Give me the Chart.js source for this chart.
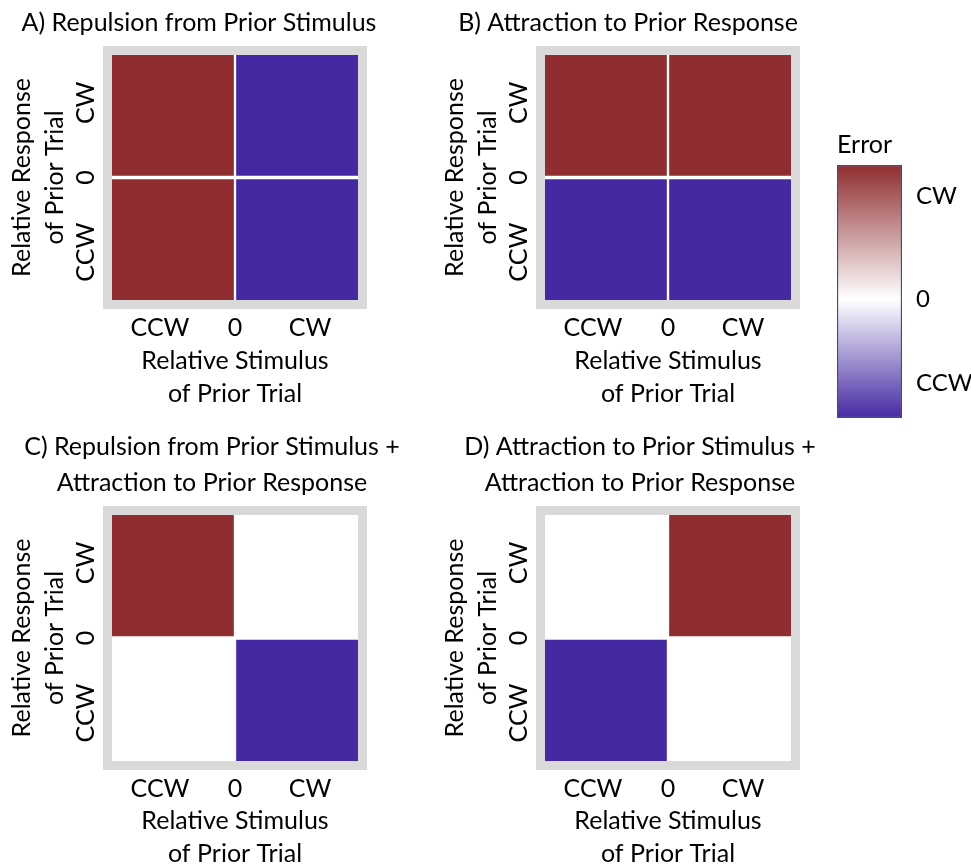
<!DOCTYPE html>
<html><head><meta charset="utf-8">
<script src="https://cdn.jsdelivr.net/npm/chart.js@4.4.1/dist/chart.umd.min.js"></script>
<style>
html,body{margin:0;padding:0;background:#fff;overflow:hidden;width:971px;height:865px;position:relative;}
canvas{position:absolute;}
</style></head><body>
<canvas id="cA" width="398" height="430" style="left:0px;top:0px"></canvas>
<canvas id="cB" width="390" height="430" style="left:433px;top:0px"></canvas>
<canvas id="cC" width="424" height="460" style="left:0px;top:420px"></canvas>
<canvas id="cD" width="414" height="460" style="left:433px;top:420px"></canvas>
<canvas id="cBar" width="141" height="320" style="left:830px;top:120px"></canvas>
<script>
// ---- data ----
const stimulusCategories = ['CCW', 'CW'];      // columns (x): relative stimulus of prior trial
const responseCategories = ['CCW', 'CW'];      // rows (y), bottom to top: relative response of prior trial
const axisTickLabels = ['CCW', '0', 'CW'];
const colorbarTickLabels = ['CCW', '0', 'CW'];
const colorbarTitle = 'Error';
const xAxisTitle = ['Relative Stimulus', 'of Prior Trial'];
const yAxisTitle = ['Relative Response', 'of Prior Trial'];
// error sign per cell: rows [CCW, CW], each row [stim CCW, stim CW]; 1 = CW error, -1 = CCW error, 0 = none
const errorA = [[1, -1], [1, -1]];
const errorB = [[-1, -1], [1, 1]];
const errorC = [[0, -1], [1, 0]];
const errorD = [[-1, 0], [0, 1]];
const titleA = 'A) Repulsion from Prior Stimulus';
const titleB = 'B) Attraction to Prior Response';
const titleC = ['C) Repulsion from Prior Stimulus +', 'Attraction to Prior Response'];
const titleD = ['D) Attraction to Prior Stimulus +', 'Attraction to Prior Response'];

// ---- style ----
const RED = [143, 45, 48];
const BLUE = [69, 41, 163];
const FRAME = '#d9d9d9';
const FS = 25;
Chart.defaults.font.family = 'Lato';
Chart.defaults.color = '#000';

function colorFor(v) {
  const c = v >= 0 ? RED : BLUE;
  const t = Math.min(1, Math.abs(v));
  const m = k => Math.round(255 + (c[k] - 255) * t);
  return `rgb(${m(0)},${m(1)},${m(2)})`;
}

const framePlugin = {
  id: 'frame',
  afterDatasetsDraw(chart) {
    const a = chart.chartArea, g = chart.ctx;
    g.save();
    g.strokeStyle = FRAME;
    g.lineWidth = 9;
    g.strokeRect(a.left - 2.5, a.top - 2.5, a.right - a.left + 5, a.bottom - a.top + 5);
    g.restore();
  }
};

function makePanel(id, title, values, cfg) {
  const cells = [], colors = [];
  values.forEach((row, r) => row.forEach((v, c) => {
    cells.push({x: stimulusCategories[c], y: [r - 1, r]});
    colors.push(colorFor(v));
  }));
  const canvas = document.getElementById(id);
  const H = canvas.height;
  const W = canvas.width;
  const font = {size: FS, lineHeight: 33 / FS};
  new Chart(canvas, {
    type: 'bar',
    data: {
      labels: stimulusCategories,
      datasets: [{
        data: cells,
        backgroundColor: colors,
        borderColor: '#ffffff',
        borderWidth: {left: 1.5, right: 1.5, top: 2, bottom: 2},
        borderSkipped: false,
        barPercentage: 1,
        categoryPercentage: 1,
        xAxisID: 'x', yAxisID: 'y'
      }]
    },
    options: {
      responsive: false,
      animation: false,
      layout: {padding: 0},
      plugins: {
        legend: {display: false},
        tooltip: {enabled: false},
        title: {display: true, text: title, color: '#000',
          font: {size: FS, lineHeight: 36 / FS, weight: 'normal'},
          padding: {top: cfg.titleTop, bottom: cfg.titleBottom}}
      },
      scales: {
        x: {type: 'category', labels: stimulusCategories, display: false, offset: true, grid: {display: false}},
        x2: {
          type: 'linear', position: 'bottom', min: -1, max: 1, offset: false,
          grid: {display: false, drawTicks: false, offset: false}, border: {display: false},
          afterBuildTicks: s => { s.ticks = [-0.6, 0, 0.6].map(v => ({value: v})); },
          ticks: {font: {size: FS, lineHeight: 1.2}, padding: 11, autoSkip: false, maxRotation: 0,
            callback: (v, i) => axisTickLabels[i]},
          title: {display: true, text: xAxisTitle, font: font, padding: {top: 0, bottom: cfg.xTitleBottom}},
          afterFit: s => { s.height = H - cfg.areaBottom; s.paddingLeft = 0; s.paddingRight = 0; }
        },
        y: {
          type: 'linear', position: 'left', min: -1, max: 1,
          grid: {display: false, drawTicks: false}, border: {display: false},
          afterBuildTicks: s => { s.ticks = [-0.6, 0, 0.6].map(v => ({value: v})); },
          ticks: {font: {size: FS, lineHeight: 1.2}, minRotation: 90, maxRotation: 90, crossAlign: 'center',
            padding: -5.5, autoSkip: false, callback: (v, i) => axisTickLabels[i]},
          title: {display: true, text: yAxisTitle, font: font, padding: {top: 5.5, bottom: 0}},
          afterFit: s => { s.width = 110; s.paddingTop = 0; s.paddingBottom = 0; }
        },
        yRight: {
          type: 'linear', position: 'right', min: -1, max: 1, display: true,
          grid: {display: false, drawTicks: false}, border: {display: false},
          ticks: {display: false},
          afterFit: s => { s.width = W - 360; s.paddingTop = 0; s.paddingBottom = 0; }
        }
      }
    },
    plugins: [framePlugin]
  });
}

makePanel('cA', titleA, errorA, {titleTop: 5, titleBottom: 12, areaBottom: 302, xTitleBottom: 19.5});
makePanel('cB', titleB, errorB, {titleTop: 5, titleBottom: 12, areaBottom: 302, xTitleBottom: 19.5});
makePanel('cC', titleC, errorC, {titleTop: 9, titleBottom: 12, areaBottom: 343, xTitleBottom: 9.5});
makePanel('cD', titleD, errorD, {titleTop: 9, titleBottom: 12, areaBottom: 343, xTitleBottom: 9.5});

// ---- colour bar ----
const barCanvas = document.getElementById('cBar');
new Chart(barCanvas, {
  type: 'bar',
  data: {
    labels: [colorbarTitle],
    datasets: [{
      data: [[-1, 1.13]],
      backgroundColor: ctx => {
        const ch = ctx.chart, a = ch.chartArea;
        if (!a) return '#ffffff';
        const g = ch.ctx.createLinearGradient(0, a.bottom, 0, a.top);
        const z = (ch.scales.y.getPixelForValue(0) - a.bottom) / (a.top - a.bottom);
        g.addColorStop(0, colorFor(-1));
        g.addColorStop(z, '#ffffff');
        g.addColorStop(1, colorFor(1));
        return g;
      },
      borderColor: '#2f528f',
      borderWidth: 1.5,
      borderSkipped: false,
      barPercentage: 1,
      categoryPercentage: 1
    }]
  },
  options: {
    responsive: false,
    animation: false,
    layout: {padding: {left: 7, right: 0, top: 0, bottom: 22}},
    plugins: {
      legend: {display: false},
      tooltip: {enabled: false},
      title: {display: true, text: colorbarTitle, align: 'start', color: '#000',
        font: {size: FS, lineHeight: 36 / FS, weight: 'normal'}, padding: {top: 7, bottom: 2}}
    },
    scales: {
      x: {display: false, offset: true},
      y: {
        position: 'right', min: -1, max: 1.13,
        grid: {display: false, drawTicks: false}, border: {display: false},
        afterBuildTicks: s => { s.ticks = [-0.71, 0, 0.87].map(v => ({value: v})); },
        ticks: {font: {size: 24}, padding: 14, autoSkip: false, callback: (v, i) => colorbarTickLabels[i]},
        afterFit: s => { s.width = 69; s.paddingTop = 0; s.paddingBottom = 0; }
      }
    }
  }
});
</script>
</body></html>
